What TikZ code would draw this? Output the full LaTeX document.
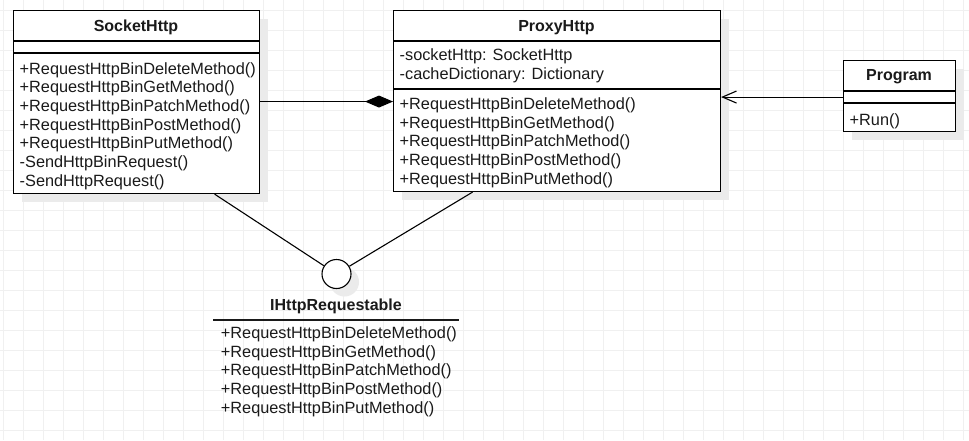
\documentclass[tikz,border=0pt]{standalone}
\usepackage{fontspec}
\setmainfont{Liberation Sans}
\usetikzlibrary{arrows.meta,calc}
\definecolor{gridc}{HTML}{F0F0F0}
\definecolor{shad}{HTML}{EBEBEB}
\definecolor{ink}{HTML}{1A1A1A}
\begin{document}
\begin{tikzpicture}[x=1pt,y=-1pt,
  umlbox/.style={draw=black,line width=1.1pt,fill=white,inner sep=0pt,anchor=north west,
    preaction={draw=none,fill=shad,transform canvas={shift={(8pt,-8pt)}}}},
  sepline/.style={draw=black,line width=1.1pt},
  txt/.style={inner sep=0pt,anchor=base west,text=ink,font=\fontsize{16.3}{19}\selectfont},
  ttl/.style={inner sep=0pt,anchor=base,text=ink,font=\fontsize{16}{19}\selectfont\bfseries},
  conn/.style={draw=black,line width=1.1pt}]
% background and grid
\fill[white] (0,0) rectangle (969,440);
\useasboundingbox (0,0) rectangle (969,440);
\foreach \gx in {3,23,...,963} \draw[gridc,line width=1pt] (\gx,0) -- (\gx,440);
\foreach \gy in {10,30,...,430} \draw[gridc,line width=1pt] (0,\gy) -- (969,\gy);

% SocketHttp
\node[umlbox,minimum width=246pt,minimum height=183pt] (sock) at (13,10) {};
\draw[sepline] (13,41) -- (259,41);
\draw[sepline] (13,53) -- (259,53);
\node[ttl] (sockt) at (136,31.7) {SocketHttp};
\node[txt] (s1) at (19.5,74) {+RequestHttpBinDeleteMethod()};
\node[txt] (s2) at (19.5,92.7) {+RequestHttpBinGetMethod()};
\node[txt] (s3) at (19.5,111.3) {+RequestHttpBinPatchMethod()};
\node[txt] (s4) at (19.5,130) {+RequestHttpBinPostMethod()};
\node[txt] (s5) at (19.5,148.7) {+RequestHttpBinPutMethod()};
\node[txt] (s6) at (19.5,167.3) {-SendHttpBinRequest()};
\node[txt] (s7) at (19.5,186) {-SendHttpRequest()};

% ProxyHttp
\node[umlbox,minimum width=327pt,minimum height=181pt] (proxy) at (393,10) {};
\draw[sepline] (393,41) -- (720,41);
\draw[sepline] (393,89) -- (720,89);
\node[ttl] (proxyt) at (556.5,31.7) {ProxyHttp};
\node[txt] (pa1) at (399.5,60.3) {-socketHttp: SocketHttp};
\node[txt] (pa2) at (399.5,79) {-cacheDictionary: Dictionary};
\node[txt] (p1) at (399.5,109.3) {+RequestHttpBinDeleteMethod()};
\node[txt] (p2) at (399.5,128) {+RequestHttpBinGetMethod()};
\node[txt] (p3) at (399.5,146.7) {+RequestHttpBinPatchMethod()};
\node[txt] (p4) at (399.5,165.3) {+RequestHttpBinPostMethod()};
\node[txt] (p5) at (399.5,184) {+RequestHttpBinPutMethod()};

% Program
\node[umlbox,minimum width=112pt,minimum height=71pt] (prog) at (843,60) {};
\draw[sepline] (843,91) -- (955,91);
\draw[sepline] (843,103) -- (955,103);
\node[ttl] (progt) at (899,80.7) {Program};
\node[txt] (pr1) at (849.5,125) {+Run()};

% Interface lollipop
\node[circle,draw=black,line width=1.1pt,fill=white,minimum size=29pt,inner sep=0pt,
  preaction={draw=none,fill=shad,transform canvas={shift={(8pt,-8pt)}}}] (iface) at (336.5,274) {};
\node[ttl] (ifacet) at (336,310) {IHttpRequestable};
\draw[line width=1.1pt,draw=ink] (213,320) -- (459,320);
\node[txt] (i1) at (220.7,338.3) {+RequestHttpBinDeleteMethod()};
\node[txt] (i2) at (220.7,357) {+RequestHttpBinGetMethod()};
\node[txt] (i3) at (220.7,375.7) {+RequestHttpBinPatchMethod()};
\node[txt] (i4) at (220.7,394.3) {+RequestHttpBinPostMethod()};
\node[txt] (i5) at (220.7,413) {+RequestHttpBinPutMethod()};

% connectors
\draw[conn,-{Diamond[length=28pt,width=12pt]}] ([yshift=0.5pt]sock.east) -- ([yshift=0.5pt]sock.east -| proxy.west);
\draw[conn,-{Straight Barb[length=14pt,width=12pt,line width=1.1pt]}] ([yshift=-1pt]prog.west) -- ([yshift=-1pt]prog.west -| proxy.east);
\draw[conn] ([xshift=78pt]sock.south) -- (iface);
\draw[conn] ([xshift=-84.5pt]proxy.south) -- (iface);
\end{tikzpicture}
\end{document}
